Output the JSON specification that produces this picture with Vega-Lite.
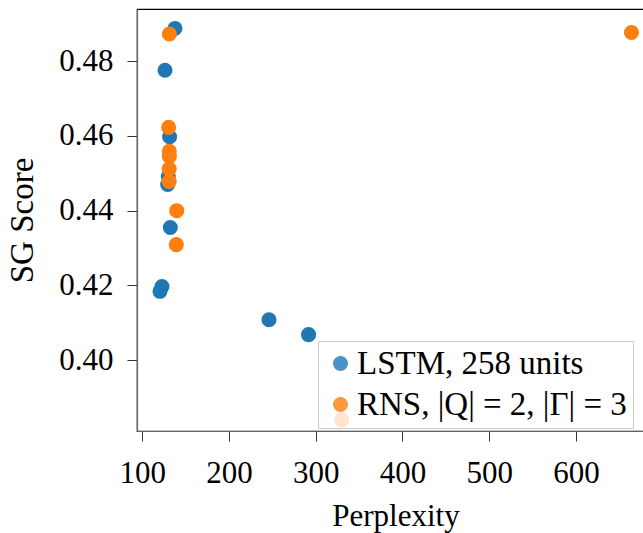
{
  "$schema": "https://vega.github.io/schema/vega-lite/v6.json",
  "autosize": "none",
  "padding": {"left": 137, "top": 9, "right": 0, "bottom": 102},
  "width": 517,
  "height": 422,
  "background": "white",
  "config": {
    "font": "Liberation Serif",
    "view": {"stroke": "black", "strokeWidth": 1.2},
    "axis": {
      "grid": false,
      "domainColor": "#666",
      "domainWidth": 1.2,
      "tickColor": "#333",
      "tickSize": 10,
      "tickWidth": 1,
      "labelFont": "Liberation Serif",
      "labelFontSize": 31,
      "labelColor": "black",
      "titleFont": "Liberation Serif",
      "titleFontSize": 31,
      "titleFontWeight": "normal",
      "titleColor": "black"
    }
  },
  "data": {
    "values": [
      {"model": "LSTM, 258 units", "perplexity": 137.7, "sg": 0.4888},
      {"model": "LSTM, 258 units", "perplexity": 126.2, "sg": 0.4776},
      {"model": "LSTM, 258 units", "perplexity": 131.5, "sg": 0.4598},
      {"model": "LSTM, 258 units", "perplexity": 130.0, "sg": 0.4492},
      {"model": "LSTM, 258 units", "perplexity": 129.3, "sg": 0.4470},
      {"model": "LSTM, 258 units", "perplexity": 132.3, "sg": 0.4355},
      {"model": "LSTM, 258 units", "perplexity": 120.4, "sg": 0.4184},
      {"model": "LSTM, 258 units", "perplexity": 122.7, "sg": 0.4197},
      {"model": "LSTM, 258 units", "perplexity": 246.1, "sg": 0.4108},
      {"model": "LSTM, 258 units", "perplexity": 291.7, "sg": 0.4068},
      {"model": "RNS, |Q| = 2, |Γ| = 3", "perplexity": 131.2, "sg": 0.4873},
      {"model": "RNS, |Q| = 2, |Γ| = 3", "perplexity": 664.0, "sg": 0.4877},
      {"model": "RNS, |Q| = 2, |Γ| = 3", "perplexity": 130.4, "sg": 0.4623},
      {"model": "RNS, |Q| = 2, |Γ| = 3", "perplexity": 131.2, "sg": 0.4559},
      {"model": "RNS, |Q| = 2, |Γ| = 3", "perplexity": 131.2, "sg": 0.4545},
      {"model": "RNS, |Q| = 2, |Γ| = 3", "perplexity": 131.0, "sg": 0.4512},
      {"model": "RNS, |Q| = 2, |Γ| = 3", "perplexity": 131.0, "sg": 0.4478},
      {"model": "RNS, |Q| = 2, |Γ| = 3", "perplexity": 139.7, "sg": 0.4400},
      {"model": "RNS, |Q| = 2, |Γ| = 3", "perplexity": 139.2, "sg": 0.4309},
      {"model": "RNS, |Q| = 2, |Γ| = 3", "perplexity": 330.0, "sg": 0.3840}
    ]
  },
  "mark": {"type": "circle", "size": 227, "opacity": 1},
  "encoding": {
    "x": {
      "field": "perplexity",
      "type": "quantitative",
      "scale": {"domain": [93.9, 690], "zero": false, "nice": false},
      "axis": {"title": "Perplexity", "values": [100, 200, 300, 400, 500, 600], "labelPadding": 17, "titlePadding": 13}
    },
    "y": {
      "field": "sg",
      "type": "quantitative",
      "scale": {"domain": [0.381, 0.494], "zero": false, "nice": false},
      "axis": {"title": "SG Score", "titleFontSize": 33, "values": [0.40, 0.42, 0.44, 0.46, 0.48], "format": ".2f", "labelPadding": 14, "titlePadding": 19}
    },
    "color": {
      "field": "model",
      "type": "nominal",
      "scale": {"domain": ["LSTM, 258 units", "RNS, |Q| = 2, |Γ| = 3"], "range": ["#1f77b4", "#ff7f0e"]},
      "legend": {
        "title": null,
        "orient": "none",
        "legendX": 181,
        "legendY": 332,
        "labelFont": "Liberation Serif",
        "labelFontSize": 33,
        "labelColor": "black",
        "labelLimit": 500,
        "symbolType": "circle",
        "symbolSize": 227,
        "symbolOpacity": 0.8,
        "symbolStrokeWidth": 0,
        "rowPadding": 7,
        "labelOffset": 0,
        "padding": 6,
        "strokeColor": "#cccccc",
        "fillColor": "rgba(255,255,255,0.8)",
        "cornerRadius": 0
      }
    },
    "order": {"field": "model", "type": "nominal"}
  }
}
